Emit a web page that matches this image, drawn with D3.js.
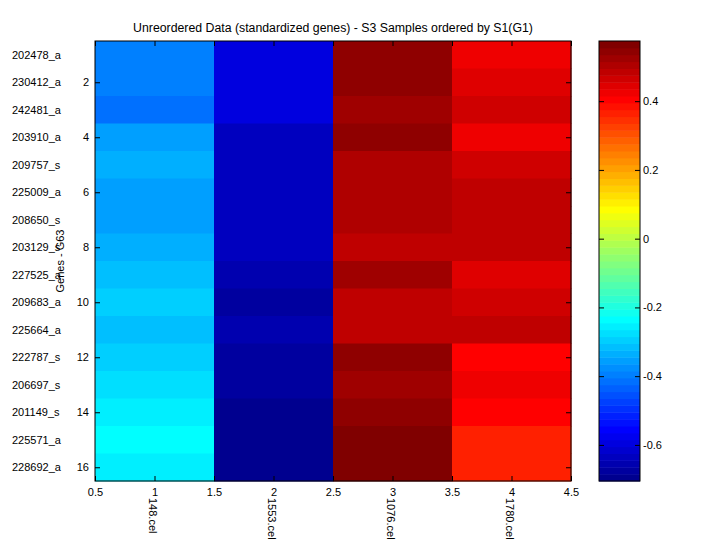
<!DOCTYPE html>
<html>
<head>
<meta charset="utf-8">
<script src="https://cdn.jsdelivr.net/npm/d3@7"></script>
<style>
body { margin: 0; background: #fff; }
text { font-family: "Liberation Sans", Arial, sans-serif; font-size: 11px; fill: #000; }
</style>
</head>
<body>
<svg id="chart" width="720" height="540"></svg>
<script>
"use strict"

// dati (16 geni x 4 campioni)
const genes = ["202478_a","230412_a","242481_a","203910_a","209757_s","225009_a","208650_s","203129_s",
               "227525_a","209683_a","225664_a","222787_s","206697_s","201149_s","225571_a","228692_a"];
const samples = ["148.cel","1553.cel","1076.cel","1780.cel"];
const s148  = [-0.39,-0.40,-0.41,-0.35,-0.33,-0.36,-0.35,-0.34,-0.31,-0.29,-0.32,-0.30,-0.27,-0.25,-0.23,-0.26];
const s1553 = [-0.59,-0.60,-0.595,-0.63,-0.64,-0.635,-0.63,-0.64,-0.655,-0.67,-0.66,-0.68,-0.675,-0.69,-0.705,-0.70];
const s1076 = [0.54,0.55,0.52,0.545,0.50,0.51,0.505,0.49,0.53,0.48,0.485,0.54,0.525,0.55,0.575,0.56];
const s1780 = [0.42,0.44,0.46,0.43,0.47,0.48,0.49,0.485,0.45,0.465,0.48,0.40,0.425,0.41,0.36,0.37];
const xTicks = [0.5,1,1.5,2,2.5,3,3.5,4,4.5];
const yTicks = [2,4,6,8,10,12,14,16];
const cbTicks = [-0.6,-0.4,-0.2,0,0.2,0.4];
const title = "Unreordered Data (standardized genes) - S3 Samples ordered by S1(G1)";

const columns = [s148, s1553, s1076, s1780];

const plotLeft = 95, plotRight = 571, plotTop = 41, plotBottom = 481;
const cbLeft = 599, cbRight = 640;
const tickLen = 5;

/**
 * @function
 * @description colore i-esimo della mappa jet di matlab (m=64)
 */
function jet(i){
    let r, g, b;
    if (i <= 8) { r = 0; g = 0; b = 0.5 + i/16; }
    else if (i <= 24) { r = 0; g = (i-8)/16; b = 1; }
    else if (i <= 40) { r = (i-24)/16; g = 1; b = 1-(i-24)/16; }
    else if (i <= 56) { r = 1; g = 1-(i-40)/16; b = 0; }
    else { r = 1-(i-56)/16; g = 0; b = 0; }
    return d3.rgb(r*255, g*255, b*255).formatHex();
}

// etichette con il trattino normale come in matlab
function plainFormat(d){
    return String(d);
}

const jetColors = d3.range(1, 65).map(jet);

const cells = [];
columns.forEach(function(col, j){
    col.forEach(function(v, i){
        cells.push({col: j+1, row: i+1, value: v});
    });
});

const extent = d3.extent(cells, d => d.value);
const color = d3.scaleQuantize().domain(extent).range(jetColors);

const x = d3.scaleLinear().domain([0.5, 4.5]).range([plotLeft, plotRight]);
const y = d3.scaleLinear().domain([0.5, 16.5]).range([plotTop, plotBottom]);
const cy = d3.scaleLinear().domain(extent).range([plotBottom, plotTop]);

const svg = d3.select("#chart");

// celle
svg.append("g")
    .selectAll("rect")
    .data(cells)
    .join("rect")
    .attr("x", d => x(d.col-0.5))
    .attr("y", d => y(d.row-0.5))
    .attr("width", d => x(d.col+0.5)-x(d.col-0.5)+0.5)
    .attr("height", d => y(d.row+0.5)-y(d.row-0.5)+0.5)
    .attr("fill", d => color(d.value));

function styleAxis(g){
    g.select(".domain").remove();
    g.selectAll("line").attr("stroke", "#000");
    g.selectAll("text").attr("font-family", null).attr("font-size", null).attr("fill", "#000");
}

// assi
svg.append("g")
    .attr("transform", "translate(0," + plotBottom + ")")
    .call(d3.axisBottom(x).tickValues(xTicks).tickSize(-tickLen).tickPadding(7).tickFormat(plainFormat))
    .call(styleAxis);
svg.append("g")
    .attr("transform", "translate(0," + plotTop + ")")
    .call(d3.axisTop(x).tickValues(xTicks).tickSize(-tickLen).tickFormat(""))
    .call(styleAxis);
svg.append("g")
    .attr("transform", "translate(" + plotLeft + ",0)")
    .call(d3.axisLeft(y).tickValues(yTicks).tickSize(-tickLen).tickPadding(6))
    .call(styleAxis);
svg.append("g")
    .attr("transform", "translate(" + plotRight + ",0)")
    .call(d3.axisRight(y).tickValues(yTicks).tickSize(-tickLen).tickFormat(""))
    .call(styleAxis);

svg.append("rect")
    .attr("x", plotLeft).attr("y", plotTop)
    .attr("width", plotRight-plotLeft).attr("height", plotBottom-plotTop)
    .attr("fill", "none").attr("stroke", "#000");

// nomi dei geni
svg.append("g")
    .selectAll("text")
    .data(genes)
    .join("text")
    .attr("x", 12)
    .attr("y", (d, i) => y(i+1))
    .attr("dy", "0.35em")
    .text(d => d);

// nomi dei campioni
svg.append("g")
    .selectAll("text")
    .data(samples)
    .join("text")
    .attr("transform", (d, i) => "translate(" + (x(i+1)-2) + ",498) rotate(90)")
    .attr("dy", "0.35em")
    .text(d => d);

svg.append("text")
    .attr("transform", "translate(64," + ((plotTop+plotBottom)/2) + ") rotate(-90)")
    .attr("text-anchor", "middle")
    .text("Genes - G63");

svg.append("text")
    .attr("x", (plotLeft+plotRight)/2)
    .attr("y", 32)
    .attr("text-anchor", "middle")
    .style("font-size", "12.3px")
    .text(title);

// barra dei colori
const cbStep = (extent[1]-extent[0])/64;
svg.append("g")
    .selectAll("rect")
    .data(jetColors)
    .join("rect")
    .attr("x", cbLeft)
    .attr("y", (d, i) => cy(extent[0]+(i+1)*cbStep))
    .attr("width", cbRight-cbLeft)
    .attr("height", cy(extent[0])-cy(extent[0]+cbStep)+0.5)
    .attr("fill", d => d);

svg.append("g")
    .attr("transform", "translate(" + cbRight + ",0)")
    .call(d3.axisRight(cy).tickValues(cbTicks).tickSize(-tickLen).tickPadding(3).tickFormat(plainFormat))
    .call(styleAxis);
svg.append("g")
    .attr("transform", "translate(" + cbLeft + ",0)")
    .call(d3.axisLeft(cy).tickValues(cbTicks).tickSize(-tickLen).tickFormat(""))
    .call(styleAxis);

svg.append("rect")
    .attr("x", cbLeft).attr("y", plotTop)
    .attr("width", cbRight-cbLeft).attr("height", plotBottom-plotTop)
    .attr("fill", "none").attr("stroke", "#000");
</script>
</body>
</html>
